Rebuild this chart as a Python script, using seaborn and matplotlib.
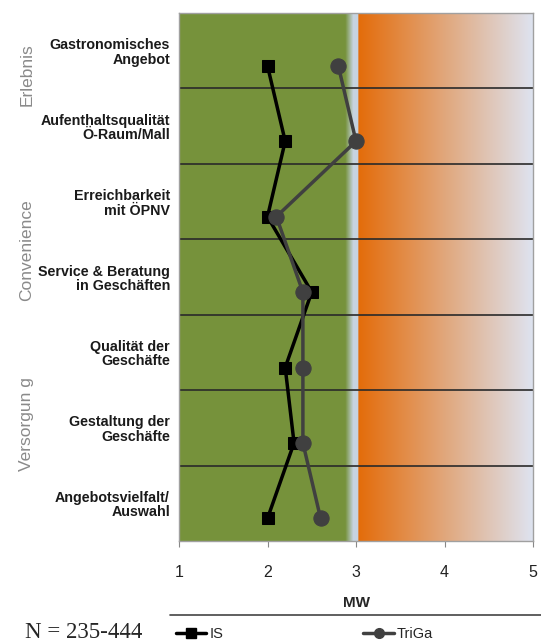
import numpy as np
import pandas as pd
import matplotlib.pyplot as plt
from matplotlib.lines import Line2D
import seaborn as sns

# Daten aus dem Diagramm
kategorien = ["Gastronomisches\nAngebot", "Aufenthaltsqualität\nÖ-Raum/Mall",
              "Erreichbarkeit\nmit ÖPNV", "Service & Beratung\nin Geschäften",
              "Qualität der\nGeschäfte", "Gestaltung der\nGeschäfte",
              "Angebotsvielfalt/\nAuswahl"]
is_werte = [2.0, 2.2, 2.0, 2.5, 2.2, 2.3, 2.0]
triga_werte = [2.8, 3.0, 2.1, 2.4, 2.4, 2.4, 2.6]
gruppen = ["Erlebnis", "Convenience", "Versorgun g"]
gruppen_mitte = [0.32, 2.64, 4.95]
x_ticks = [1, 2, 3, 4, 5]

sns.set_style("white")
plt.rcParams['font.family'] = ['Liberation Sans', 'DejaVu Sans']

fig = plt.figure(figsize=(5.41, 6.44), dpi=100)
ax = fig.add_axes([179/541, 1-541/644, 354/541, 528/644])

# Hintergrund: grün bis 3, dann orange Verlauf
n = 600
xs = np.linspace(1, 5, n)
gruen = np.array([0.463, 0.573, 0.235])
blau = np.array([0.78, 0.83, 0.88])
orange = np.array([0.894, 0.424, 0.04])
hell = np.array([0.87, 0.89, 0.94])
img = np.zeros((1, n, 3))
for i, xv in enumerate(xs):
    if xv < 2.88:
        c = gruen
    elif xv < 2.97:
        t = (xv - 2.88) / 0.09
        c = gruen * (1 - t) + blau * t
    elif xv < 3.03:
        c = blau
    else:
        t = (xv - 3.03) / 1.97
        c = orange * (1 - t) + hell * t
    img[0, i] = c
ax.imshow(img, extent=[1, 5, 6.5, -0.5], aspect='auto', zorder=0)

pos = np.arange(len(kategorien))
df = pd.DataFrame({"pos": pos + 0.2, "IS": is_werte, "TriGa": triga_werte})

for i in range(len(kategorien) - 1):
    ax.axhline(i + 0.5, color="#2a2a2a", lw=1.2, zorder=1)

sns.lineplot(data=df, x="IS", y="pos", sort=False, estimator=None, ax=ax, color="black",
             marker="s", markersize=8, lw=2.5, markeredgecolor="black", legend=False, zorder=3)
sns.lineplot(data=df, x="TriGa", y="pos", sort=False, estimator=None, ax=ax, color="#404040",
             marker="o", markersize=11, lw=2.5, markeredgecolor="#404040", legend=False, zorder=4)

ax.set_xlim(1, 5)
ax.set_ylim(6.5, -0.5)
ax.set_xticks(x_ticks)
ax.set_xticklabels([str(t) for t in x_ticks], fontsize=11.5, color="#222222")
ax.tick_params(axis='x', bottom=True, length=4, color="#888888", pad=13)
ax.set_yticks(pos)
ax.set_yticklabels(kategorien, fontsize=10.3, fontweight="bold", color="#1a1a1a",
                   linespacing=1.05)
ax.tick_params(axis='y', left=False, pad=3)
ax.set_xlabel("MW", fontsize=11, fontweight="bold", labelpad=12)
ax.set_ylabel("")
for s in ax.spines.values():
    s.set_color("#a0a0a0")
    s.set_linewidth(1)

for g, m in zip(gruppen, gruppen_mitte):
    y_fig = 1 - (13 + (m + 0.5) * 528 / 7) / 644
    fig.text(27/541, y_fig, g, rotation=90, ha="center", va="center",
             fontsize=12.5, color="#8a8a8a")

fig.add_artist(Line2D([170/541, 1], [1-615/644]*2, color="#444444", lw=1.2))

handles = [Line2D([], [], color="black", marker="s", markersize=7, lw=2.5),
           Line2D([], [], color="#404040", marker="o", markersize=7, lw=2.5)]
fig.legend(handles, ["IS", "TriGa"], loc="center left", bbox_to_anchor=(170/541, 1-634/644),
           ncol=2, frameon=False, fontsize=10.5, handlelength=2.1, handletextpad=0.2,
           columnspacing=9.6, borderaxespad=0)

fig.text(25/541, 1-633/644, "N = 235-444", fontsize=16.5, family="Liberation Serif",
         ha="left", va="center")

fig.savefig("out.png", dpi=100)
